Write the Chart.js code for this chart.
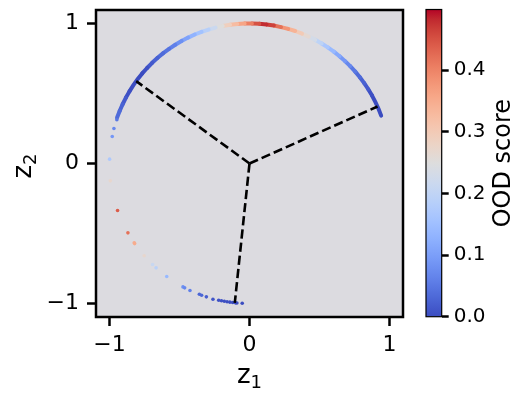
<!DOCTYPE html>
<html>
<head>
<meta charset="utf-8">
<script src="https://cdn.jsdelivr.net/npm/chart.js@4.4.0/dist/chart.umd.min.js"></script>
<style>
  html, body { margin: 0; padding: 0; background: #fff; }
  #wrap { position: relative; width: 525px; height: 400px; }
  #c1 { position: absolute; left: 0; top: 0; }
  #c2 { position: absolute; left: 410px; top: 0; }
</style>
</head>
<body>
<div id="wrap">
  <canvas id="c1" width="410" height="400"></canvas>
  <canvas id="c2" width="115" height="400"></canvas>
</div>
<script>
// dense arc of embeddings (z1, z2) with their OOD score
const arcZ1 = [0.940, 0.921, 0.899, 0.875, 0.848, 0.819, 0.788, 0.755, 0.719, 0.682, 0.643, 0.602,
  0.559, 0.515, 0.469, 0.423, 0.375, 0.326, 0.276, 0.225, 0.174, 0.122, 0.070, 0.017,
  -0.035, -0.087, -0.139, -0.191, -0.242, -0.292, -0.342, -0.391, -0.438, -0.485, -0.530, -0.574,
  -0.616, -0.656, -0.695, -0.731, -0.766, -0.799, -0.829, -0.857, -0.883, -0.906, -0.927, -0.946]
const arcZ2 = [0.342, 0.391, 0.438, 0.485, 0.530, 0.574, 0.616, 0.656, 0.695, 0.731, 0.766, 0.799,
  0.829, 0.857, 0.883, 0.906, 0.927, 0.946, 0.961, 0.974, 0.985, 0.993, 0.998, 1.000,
  0.999, 0.996, 0.990, 0.982, 0.970, 0.956, 0.940, 0.921, 0.899, 0.875, 0.848, 0.819,
  0.788, 0.755, 0.719, 0.682, 0.643, 0.602, 0.559, 0.515, 0.469, 0.423, 0.375, 0.326]
const arcScore = [0.00, 0.00, 0.00, 0.00, 0.01, 0.02, 0.03, 0.04, 0.06, 0.08, 0.10, 0.13,
  0.15, 0.18, 0.21, 0.25, 0.28, 0.32, 0.36, 0.40, 0.44, 0.49, 0.47, 0.43,
  0.38, 0.34, 0.31, 0.27, 0.23, 0.20, 0.17, 0.14, 0.12, 0.09, 0.07, 0.05,
  0.04, 0.03, 0.02, 0.01, 0.00, 0.00, 0.00, 0.00, 0.01, 0.02, 0.03, 0.04]

// sparse points down the left side and the cluster at the bottom
const tailZ1 = [-0.947, -0.968, -0.980, -0.999, -0.994, -0.942, -0.868, -0.823, -0.820, -0.752, -0.692, -0.667,
  -0.591, -0.475, -0.463, -0.425, -0.358, -0.342, -0.308, -0.261,
  -0.220, -0.200, -0.180, -0.160, -0.140, -0.120, -0.100, -0.090, -0.052]
const tailZ2 = [0.312, 0.250, 0.193, 0.031, -0.124, -0.336, -0.495, -0.566, -0.572, -0.659, -0.721, -0.745,
  -0.807, -0.881, -0.888, -0.907, -0.934, -0.941, -0.952, -0.969,
  -0.976, -0.980, -0.984, -0.987, -0.990, -0.993, -0.995, -0.996, -0.998]
const tailScore = [0.05, 0.07, 0.09, 0.17, 0.27, 0.44, 0.42, 0.35, 0.35, 0.27, 0.21, 0.19,
  0.14, 0.08, 0.07, 0.06, 0.03, 0.03, 0.02, 0.01,
  0.007, 0.005, 0.003, 0.002, 0.001, 0.0, 0.0, 0.0, 0.001]

// class prototypes (end of the dashed lines from the origin)
const protoZ1 = [0.914, -0.809, -0.105]
const protoZ2 = [0.407, 0.588, -0.995]

const xTicks = [-1, 0, 1]
const yTicks = [-1, 0, 1]
const cbTicks = [0.0, 0.1, 0.2, 0.3, 0.4]
const cbRange = [0, 0.4985]

// matplotlib coolwarm
const coolwarm = [[59,76,192],[68,90,204],[77,104,215],[87,117,225],[98,130,234],[108,142,241],
  [119,154,247],[130,165,251],[141,176,254],[152,185,255],[163,194,255],[174,201,253],
  [184,208,249],[194,213,244],[204,217,238],[213,219,230],[221,221,221],[229,216,209],
  [236,211,197],[241,204,185],[245,196,173],[247,187,160],[247,177,148],[247,166,135],
  [244,154,123],[241,141,111],[236,127,99],[229,112,88],[222,96,77],[213,80,66],
  [203,62,56],[192,40,47],[180,4,38]]

function cmap(v) {
  let t = (v - cbRange[0]) / (cbRange[1] - cbRange[0])
  t = Math.max(0, Math.min(1, t))
  const f = t * (coolwarm.length - 1)
  const i = Math.min(coolwarm.length - 2, Math.floor(f))
  const u = f - i
  const a = coolwarm[i], b = coolwarm[i + 1]
  const c = a.map((x, k) => Math.round(x + (b[k] - x) * u))
  return 'rgb(' + c.join(',') + ')'
}

const FONT = "'DejaVu Sans', sans-serif"
Chart.defaults.font.family = FONT

function fmtTick(v) {
  return v < 0 ? '\u2212' + Math.abs(v) : String(v)
}

const plotBg = {
  id: 'plotBg',
  beforeDraw(chart) {
    const a = chart.chartArea, ctx = chart.ctx
    ctx.save()
    ctx.fillStyle = '#dcdbe0'
    ctx.fillRect(a.left, a.top, a.right - a.left, a.bottom - a.top)
    ctx.restore()
  }
}

const frame = {
  id: 'frame',
  afterDraw(chart, args, opts) {
    const a = chart.chartArea, ctx = chart.ctx
    ctx.save()
    ctx.strokeStyle = '#000'
    ctx.lineWidth = opts.width
    ctx.strokeRect(a.left, a.top, a.right - a.left, a.bottom - a.top)
    ctx.restore()
  }
}

// z with subscript, drawn as text
function drawSubLabel(ctx, base, sub, cx, cy, rot) {
  ctx.save()
  ctx.translate(cx, cy)
  ctx.rotate(rot)
  ctx.fillStyle = '#000'
  ctx.textBaseline = 'alphabetic'
  ctx.textAlign = 'left'
  ctx.font = '26px ' + FONT
  const w1 = ctx.measureText(base).width
  ctx.font = '18px ' + FONT
  const w2 = ctx.measureText(sub).width
  const x0 = -(w1 + w2) / 2
  ctx.font = '26px ' + FONT
  ctx.fillText(base, x0, 7)
  ctx.font = '18px ' + FONT
  ctx.fillText(sub, x0 + w1, 12)
  ctx.restore()
}

const axisTitles = {
  id: 'axisTitles',
  afterDraw(chart) {
    const a = chart.chartArea, ctx = chart.ctx
    drawSubLabel(ctx, 'z', '1', (a.left + a.right) / 2, 376, 0)
    drawSubLabel(ctx, 'z', '2', 24, 166, -Math.PI / 2)
  }
}

const tickGrid = (len) => ({
  display: true,
  drawOnChartArea: false,
  drawTicks: true,
  tickLength: len,
  tickWidth: 2.5,
  tickColor: '#000'
})

const lineSets = protoZ1.map((x, i) => ({
  data: [{x: 0, y: 0}, {x: x, y: protoZ2[i]}],
  showLine: true,
  borderColor: '#000',
  borderWidth: 2.6,
  borderDash: [9.25, 4],
  pointRadius: 0,
  order: 0
}))

new Chart(document.getElementById('c1'), {
  type: 'scatter',
  data: {
    datasets: [
      ...lineSets,
      {
        data: tailZ1.map((x, i) => ({x: x, y: tailZ2[i]})),
        pointRadius: 1.8,
        pointBorderWidth: 0,
        pointBackgroundColor: tailScore.map(cmap),
        order: 1
      },
      {
        data: arcZ1.map((x, i) => ({x: x, y: arcZ2[i]})),
        showLine: true,
        pointRadius: 0,
        borderWidth: 4,
        borderCapStyle: 'round',
        segment: {
          borderColor: c => cmap((arcScore[c.p0DataIndex] + arcScore[c.p1DataIndex]) / 2)
        },
        order: 2
      }
    ]
  },
  options: {
    responsive: false,
    devicePixelRatio: 1,
    animation: false,
    layout: { padding: { top: 10, right: 7, left: 0, bottom: 0 } },
    plugins: { legend: { display: false }, tooltip: { enabled: false }, frame: { width: 2.5 } },
    scales: {
      x: {
        type: 'linear',
        min: -1.096, max: 1.096,
        afterBuildTicks: s => { s.ticks = xTicks.map(v => ({value: v})) },
        afterFit: s => { s.height = 83; s.paddingLeft = 0; s.paddingRight = 0 },
        grid: tickGrid(9),
        border: { display: false },
        ticks: { color: '#000', font: { family: FONT, size: 22 }, padding: 6, callback: fmtTick }
      },
      y: {
        type: 'linear',
        min: -1.096, max: 1.096,
        afterBuildTicks: s => { s.ticks = yTicks.map(v => ({value: v})) },
        afterFit: s => { s.width = 96; s.paddingTop = 0; s.paddingBottom = 0 },
        grid: tickGrid(9),
        border: { display: false },
        ticks: { color: '#000', font: { family: FONT, size: 22 }, padding: 8, callback: fmtTick }
      }
    }
  },
  plugins: [plotBg, frame, axisTitles]
})

// colorbar
const cbLabel = {
  id: 'cbLabel',
  afterDraw(chart) {
    const a = chart.chartArea, ctx = chart.ctx
    ctx.save()
    ctx.translate(100, (a.top + a.bottom) / 2)
    ctx.rotate(-Math.PI / 2)
    ctx.fillStyle = '#000'
    ctx.font = '24px ' + FONT
    ctx.textAlign = 'center'
    ctx.textBaseline = 'alphabetic'
    ctx.fillText('OOD score', 0, 0)
    ctx.restore()
  }
}

new Chart(document.getElementById('c2'), {
  type: 'bar',
  data: {
    labels: [''],
    datasets: [{
      data: [cbRange],
      barPercentage: 1,
      categoryPercentage: 1,
      borderWidth: 0,
      backgroundColor: c => {
        const a = c.chart.chartArea
        if (!a) return cmap(0.25)
        const g = c.chart.ctx.createLinearGradient(0, a.bottom, 0, a.top)
        coolwarm.forEach((col, i) => g.addColorStop(i / (coolwarm.length - 1), 'rgb(' + col.join(',') + ')'))
        return g
      }
    }]
  },
  options: {
    responsive: false,
    devicePixelRatio: 1,
    animation: false,
    layout: { padding: { top: 9.5, left: 16, right: 0, bottom: 83.3 } },
    plugins: { legend: { display: false }, tooltip: { enabled: false }, frame: { width: 1.2 } },
    scales: {
      x: { display: false },
      y: {
        position: 'right',
        min: cbRange[0], max: cbRange[1],
        afterBuildTicks: s => { s.ticks = cbTicks.map(v => ({value: v})) },
        afterFit: s => { s.width = 83.3; s.paddingTop = 0; s.paddingBottom = 0 },
        grid: tickGrid(7),
        border: { display: false },
        ticks: { color: '#000', font: { family: FONT, size: 20 }, padding: 5, callback: v => v.toFixed(1) }
      }
    }
  },
  plugins: [frame, cbLabel]
})
</script>
</body>
</html>
